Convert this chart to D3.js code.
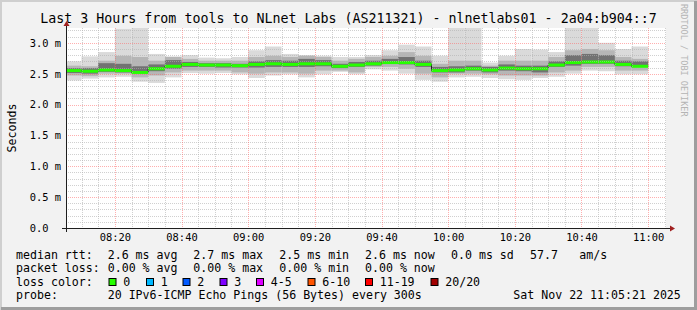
<!DOCTYPE html>
<html>
<head>
<meta charset="utf-8">
<script src="https://cdn.jsdelivr.net/npm/d3@7"></script>
<style>
body { margin: 0; background: #f2f2f2; }
text { font-family: "DejaVu Sans Mono", monospace; white-space: pre; }
</style>
</head>
<body>
<div id="chart"></div>
<script>
// 5 minute steps (start of each step, UTC)
const steps = ["08:05","08:10","08:15","08:20","08:25","08:30","08:35","08:40","08:45","08:50",
    "08:55","09:00","09:05","09:10","09:15","09:20","09:25","09:30","09:35","09:40",
    "09:45","09:50","09:55","10:00","10:05","10:10","10:15","10:20","10:25","10:30",
    "10:35","10:40","10:45","10:50","10:55"]

// rtt in ms
const median = [2.55,2.54,2.56,2.55,2.52,2.58,2.62,2.65,2.64,2.64,
    2.63,2.65,2.66,2.65,2.66,2.66,2.62,2.64,2.66,2.68,
    2.68,2.65,2.55,2.56,2.58,2.56,2.59,2.58,2.58,2.64,
    2.68,2.69,2.69,2.65,2.62]
const pingMax = [2.70,2.78,2.85,3.23,3.24,2.82,2.78,2.80,2.76,2.75,
    2.77,2.88,2.94,2.82,2.80,2.79,2.77,2.77,2.80,2.88,
    2.97,2.94,2.79,3.24,3.24,2.68,2.79,2.90,2.89,2.85,
    3.24,3.24,3.00,2.90,2.94]
const pingMin = [2.39,2.42,2.44,2.45,2.37,2.35,2.44,2.51,2.50,2.51,
    2.49,2.43,2.47,2.49,2.44,2.49,2.53,2.49,2.57,2.55,
    2.50,2.40,2.37,2.44,2.45,2.43,2.41,2.40,2.43,2.45,
    2.50,2.55,2.54,2.49,2.49]
const highMid = [2.63,2.62,2.71,2.79,2.77,2.71,2.77,2.74,2.71,2.71,
    2.71,2.77,2.79,2.77,2.79,2.77,2.71,2.74,2.77,2.79,
    2.85,2.79,2.66,2.71,2.71,2.63,2.71,2.71,2.71,2.77,
    2.88,2.90,2.88,2.77,2.74]
const lowMid = [2.47,2.46,2.50,2.50,2.44,2.47,2.52,2.55,2.55,2.55,
    2.52,2.50,2.52,2.52,2.50,2.55,2.55,2.52,2.61,2.61,
    2.58,2.50,2.44,2.50,2.50,2.49,2.47,2.47,2.47,2.52,
    2.55,2.61,2.61,2.55,2.55]
const highCore = [2.59,2.59,2.67,2.66,2.62,2.65,2.72,2.69,2.67,2.67,
    2.66,2.70,2.72,2.71,2.74,2.72,2.66,2.69,2.71,2.74,
    2.77,2.71,2.61,2.62,2.63,2.61,2.65,2.63,2.63,2.70,
    2.80,2.82,2.80,2.71,2.70]
const lowCore = [2.51,2.50,2.53,2.52,2.51,2.54,2.58,2.61,2.61,2.60,
    2.60,2.60,2.61,2.61,2.61,2.62,2.59,2.61,2.63,2.66,
    2.65,2.61,2.52,2.52,2.55,2.52,2.55,2.54,2.52,2.61,
    2.63,2.66,2.66,2.62,2.61]

const yTicks = [0, 0.5, 1.0, 1.5, 2.0, 2.5, 3.0]

const title = "Last 3 Hours from tools to NLnet Labs (AS211321) - nlnetlabs01 - 2a04:b904::7"
const rttStats = ["2.6 ms avg", "2.7 ms max", "2.5 ms min", "2.6 ms now", "0.0 ms sd", "57.7", "am/s"]
const lossStats = ["0.00 % avg", "0.00 % max", "0.00 % min", "0.00 % now"]
const lossLabels = ["0", "1", "2", "3", "4-5", "6-10", "11-19", "20/20"]
const lossColors = ["#26ff00", "#00b8ff", "#0059ff", "#7e00ff", "#dd00ff", "#ff5500", "#ff0000", "#a10000"]
const probeText = "20 IPv6-ICMP Echo Pings (56 Bytes) every 300s"
const stamp = "Sat Nov 22 11:05:21 2025"

const width = 697,
    height = 310

const plotLeft = 66, plotTop = 28, plotW = 600, plotH = 200

const day = (h, m, s) => new Date(Date.UTC(2025, 10, 22, h, m, s || 0))
const parseStep = s => day(+s.slice(0, 2), +s.slice(3, 5))

var x = d3.scaleUtc()
    .domain([day(8, 5, 21), day(11, 5, 21)])
    .range([plotLeft, plotLeft + plotW])

var y = d3.scaleLinear()
    .domain([0, 3.24])
    .range([plotTop + plotH, plotTop])

var svg = d3.select("#chart")
    .append("svg")
    .attr("width", width)
    .attr("height", height)
    .style("display", "block")

// background + 3d border like rrdtool
svg.append("rect").attr("width", width).attr("height", height).attr("fill", "#f2f2f2")
svg.append("path").attr("d", `M1,${height} V1 H${width}`).attr("fill", "none")
    .attr("stroke", "#cfcfcf").attr("stroke-width", 2)
svg.append("path").attr("d", `M1,${height - 1.5} H${width - 1.5} V1`).attr("fill", "none")
    .attr("stroke", "#9e9e9e").attr("stroke-width", 3)

svg.append("rect")
    .attr("x", plotLeft).attr("y", plotTop)
    .attr("width", plotW).attr("height", plotH)
    .attr("fill", "#fff")

svg.append("defs").append("clipPath").attr("id", "plot")
    .append("rect").attr("x", plotLeft).attr("y", plotTop).attr("width", plotW).attr("height", plotH)

var cols = steps.map((s, i) => {
    var t0 = parseStep(s)
    return { i: i, t0: t0, t1: d3.utcMinute.offset(t0, 5) }
})

var graph = svg.append("g").attr("clip-path", "url(#plot)")

// smoke, outer to inner
var bands = [
    [pingMin, pingMax, "#dadada"],
    [lowMid, highMid, "#b6b6b6"],
    [lowCore, highCore, "#727272"]
]

bands.forEach(b => {
    graph.append("g")
        .selectAll("rect")
        .data(cols)
        .enter()
        .append("rect")
        .attr("x", d => x(d.t0))
        .attr("width", d => x(d.t1) - x(d.t0))
        .attr("y", d => y(b[1][d.i]))
        .attr("height", d => y(b[0][d.i]) - y(b[1][d.i]))
        .attr("fill", b[2])
})

// median: thin dark step line + loss colored bar
var medPts = cols.map(d => [d.t0, median[d.i]])
medPts.push([cols[cols.length - 1].t1, median[median.length - 1]])

graph.append("path")
    .datum(medPts)
    .attr("fill", "none")
    .attr("stroke", "#202020")
    .attr("stroke-width", 1)
    .attr("d", d3.line().x(d => x(d[0])).y(d => y(d[1])).curve(d3.curveStepAfter))

graph.append("g")
    .selectAll("rect")
    .data(cols)
    .enter()
    .append("rect")
    .attr("x", d => x(d.t0))
    .attr("width", d => x(d.t1) - x(d.t0))
    .attr("y", d => y(median[d.i]) - 1.5)
    .attr("height", 3)
    .attr("fill", lossColors[0])

// grid on top
var grid = svg.append("g")
var minorY = d3.range(1, 33).map(v => v / 10).filter((v, i) => (i + 1) % 5 != 0)
var minorX = x.ticks(d3.utcMinute.every(5)).filter(t => t.getUTCMinutes() % 20 != 0)
var majorX = x.ticks(d3.utcMinute.every(20))

grid.selectAll(".hmin").data(minorY).enter().append("line")
    .attr("x1", plotLeft).attr("x2", plotLeft + plotW)
    .attr("y1", d => Math.round(y(d)) + 0.5).attr("y2", d => Math.round(y(d)) + 0.5)
    .attr("stroke", "#b0b0b0").attr("stroke-opacity", 0.6).attr("stroke-dasharray", "1,1")
grid.selectAll(".vmin").data(minorX).enter().append("line")
    .attr("y1", plotTop).attr("y2", plotTop + plotH)
    .attr("x1", d => Math.round(x(d)) + 0.5).attr("x2", d => Math.round(x(d)) + 0.5)
    .attr("stroke", "#b0b0b0").attr("stroke-opacity", 0.6).attr("stroke-dasharray", "1,1")
grid.selectAll(".hmaj").data(yTicks.slice(1)).enter().append("line")
    .attr("x1", plotLeft).attr("x2", plotLeft + plotW)
    .attr("y1", d => Math.round(y(d)) + 0.5).attr("y2", d => Math.round(y(d)) + 0.5)
    .attr("stroke", "#ff5f5f").attr("stroke-opacity", 0.5).attr("stroke-dasharray", "1,1")
grid.selectAll(".vmaj").data(majorX).enter().append("line")
    .attr("y1", plotTop).attr("y2", plotTop + plotH)
    .attr("x1", d => Math.round(x(d)) + 0.5).attr("x2", d => Math.round(x(d)) + 0.5)
    .attr("stroke", "#ff5f5f").attr("stroke-opacity", 0.5).attr("stroke-dasharray", "1,1")

// axes
var xAxis = svg.append("g")
    .attr("transform", `translate(0,${plotTop + plotH})`)
    .call(d3.axisBottom(x).ticks(d3.utcMinute.every(20)).tickFormat(d3.utcFormat("%H:%M"))
        .tickSize(0).tickPadding(5.5))
var yAxis = svg.append("g")
    .attr("transform", `translate(${plotLeft},0)`)
    .call(d3.axisLeft(y).tickValues(yTicks)
        .tickFormat(d => d == 0 ? "0.0\u00a0\u00a0" : d3.format(".1f")(d) + " m")
        .tickSize(0).tickPadding(5))
;[xAxis, yAxis].forEach(a => {
    a.select(".domain").remove()
    a.selectAll("text").attr("font-size", "10.4px").attr("fill", "#000")
        .attr("font-family", "DejaVu Sans Mono, monospace")
})

var ax = svg.append("g")
ax.append("line").attr("x1", plotLeft - 4).attr("x2", plotLeft + plotW + 4)
    .attr("y1", plotTop + plotH + 0.5).attr("y2", plotTop + plotH + 0.5).attr("stroke", "#1e1e1e")
ax.append("line").attr("x1", plotLeft + 0.5).attr("x2", plotLeft + 0.5)
    .attr("y1", plotTop + plotH + 4).attr("y2", plotTop - 2).attr("stroke", "#1e1e1e")
ax.append("path").attr("fill", "#a02020")
    .attr("d", `M${plotLeft + plotW + 4},${plotTop + plotH - 2.5} L${plotLeft + plotW + 9},${plotTop + plotH + 0.5} L${plotLeft + plotW + 4},${plotTop + plotH + 3.5} Z`)
ax.append("path").attr("fill", "#a02020")
    .attr("d", `M${plotLeft - 2.5},${plotTop - 2} L${plotLeft + 0.5},${plotTop - 7} L${plotLeft + 3.5},${plotTop - 2} Z`)

// texts
svg.append("text")
    .attr("x", width / 2).attr("y", 23)
    .attr("text-anchor", "middle")
    .attr("font-size", "13.3px")
    .text(title)

svg.append("text")
    .attr("transform", `translate(15.5,${plotTop + plotH / 2}) rotate(-90)`)
    .attr("text-anchor", "middle")
    .attr("font-size", "11.6px")
    .text("Seconds")

svg.append("text")
    .attr("transform", `translate(681,4) rotate(90)`)
    .attr("font-size", "8.5px")
    .attr("fill", "#b4b4b4")
    .text("RRDTOOL / TOBI OETIKER")

var legend = svg.append("g").attr("font-size", "11.6px").attr("fill", "#000")
var colX = [107.7, 193.3, 279.3, 365, 451, 530, 579.3]
var rowY = [258.5, 272.3, 285.7, 299]

legend.append("text").attr("x", 16).attr("y", rowY[0]).text("median rtt:")
rttStats.forEach((s, i) => legend.append("text").attr("x", colX[i]).attr("y", rowY[0]).text(s))

legend.append("text").attr("x", 16).attr("y", rowY[1]).text("packet loss:")
lossStats.forEach((s, i) => legend.append("text").attr("x", colX[i]).attr("y", rowY[1]).text(s))

legend.append("text").attr("x", 16).attr("y", rowY[2]).text("loss color:")
var swX = [108.5, 146, 182.5, 219.5, 256, 307.5, 365, 430.5]
lossLabels.forEach((s, i) => {
    legend.append("rect")
        .attr("x", swX[i] + 0.5).attr("y", 278.5)
        .attr("width", 7).attr("height", 7)
        .attr("fill", lossColors[i]).attr("stroke", "#000")
    legend.append("text").attr("x", swX[i] + 14.7).attr("y", rowY[2]).text(s)
})

legend.append("text").attr("x", 16).attr("y", rowY[3]).text("probe:")
legend.append("text").attr("x", colX[0]).attr("y", rowY[3]).text(probeText)
legend.append("text").attr("x", 513.3).attr("y", rowY[3]).text(stamp)
</script>
</body>
</html>
